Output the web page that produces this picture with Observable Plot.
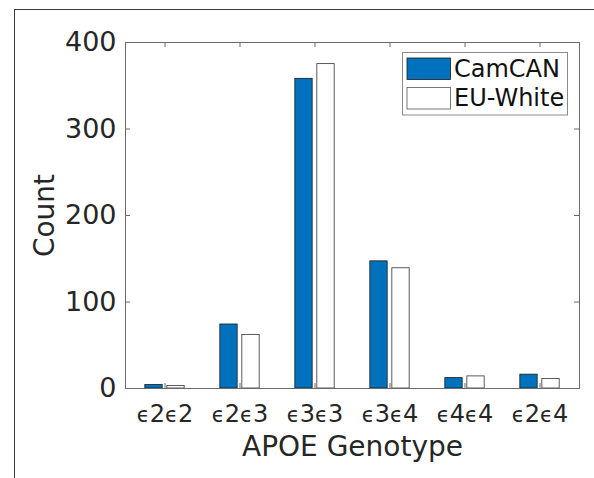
<!DOCTYPE html>
<html>
<head>
<meta charset="utf-8">
<script src="https://cdn.jsdelivr.net/npm/d3@7"></script>
<script src="https://cdn.jsdelivr.net/npm/@observablehq/plot@0.6"></script>
<style>
  html, body { margin: 0; padding: 0; background: white; }
  #wrap { position: relative; width: 594px; height: 478px; overflow: hidden; }
  #border { position: absolute; left: 14px; top: 9px; right: -10px; bottom: -10px; border-left: 1px solid #3c3c3c; border-top: 1px solid #3c3c3c; pointer-events: none; }
</style>
</head>
<body>
<div id="wrap"><div id="chart"></div><div id="border"></div></div>
<script>
const genotypes = ["ϵ2ϵ2", "ϵ2ϵ3", "ϵ3ϵ3", "ϵ3ϵ4", "ϵ4ϵ4", "ϵ2ϵ4"];
const camcan = [4, 74, 358, 147, 12, 16];
const euWhite = [3, 62, 375, 139, 14, 11];
const series = ["CamCAN", "EU-White"];
const seriesColors = ["#0072BD", "#ffffff"];
const yTicks = [0, 100, 200, 300, 400];
const xTitle = "APOE Genotype";
const yTitle = "Count";

const W = 594, H = 478, mL = 125, mR = 15, mT = 42, mB = 90;
const plotW = W - mL - mR, plotH = H - mT - mB;
const bw = plotW / genotypes.length;
const rows = genotypes.map((g, i) => ({g, c: camcan[i], e: euWhite[i]}));
const axisColor = "#262626";
const frameColor = "#6a6a6a";

const chart = Plot.plot({
  width: W, height: H,
  marginLeft: mL, marginRight: mR, marginTop: mT, marginBottom: mB,
  style: {fontFamily: "DejaVu Sans", color: axisColor, background: "white"},
  x: {domain: genotypes, padding: 0, label: null},
  y: {domain: [0, 400], label: null},
  marks: [
    Plot.barY(rows, {x: "g", y: "c", fill: seriesColors[0], stroke: "#1a1a1a", strokeWidth: 0.8,
      insetLeft: bw / 2 - 20, insetRight: bw / 2 + 2}),
    Plot.barY(rows, {x: "g", y: "e", fill: seriesColors[1], stroke: "#333", strokeWidth: 0.8,
      insetLeft: bw / 2 + 2, insetRight: bw / 2 - 20}),
    Plot.frame({stroke: frameColor}),
    Plot.tickY(yTicks, {y: d => d, insetRight: plotW - 5, stroke: frameColor}),
    Plot.tickY(yTicks, {y: d => d, insetLeft: plotW - 5, stroke: frameColor}),
    Plot.tickX(genotypes, {x: d => d, insetTop: plotH - 5, stroke: frameColor}),
    Plot.tickX(genotypes, {x: d => d, insetBottom: plotH - 5, stroke: frameColor}),
    Plot.axisY({ticks: yTicks, tickSize: 0, tickPadding: 9, fontSize: 27, label: null}),
    Plot.axisX({tickSize: 0, tickPadding: 16, fontSize: 24, label: null}),
    Plot.text([xTitle], {frameAnchor: "bottom", text: d => d, dy: 58.7, fontSize: 28, lineAnchor: "middle", textAnchor: "middle", fill: axisColor}),
    Plot.text([yTitle], {frameAnchor: "left", text: d => d, dx: -80.7, rotate: -90, fontSize: 28, lineAnchor: "middle", textAnchor: "middle", fill: axisColor})
  ]
});
document.getElementById("chart").appendChild(chart);

// render epsilon glyphs smaller, as in the TeX-interpreted tick labels
d3.select(chart).selectAll('g[aria-label="x-axis tick label"] text').each(function() {
  const t = this.textContent;
  const sel = d3.select(this);
  sel.text(null);
  for (const ch of t) {
    const sp = sel.append("tspan").text(ch);
    if (ch === "ϵ") sp.attr("font-size", 21);
  }
});

// legend
const svg = d3.select(chart);
const lg = svg.append("g").attr("font-family", "DejaVu Sans").attr("font-size", 24)
  .attr("fill", "#111").attr("text-anchor", "start");
lg.append("rect").attr("x", 402.5).attr("y", 52.5).attr("width", 165).attr("height", 62.5)
  .attr("fill", "white").attr("stroke", "#8a8a8a").attr("stroke-width", 1);
series.forEach((s, i) => {
  const y0 = i === 0 ? 58 : 87.5;
  lg.append("rect").attr("x", 407).attr("y", y0).attr("width", 43.5).attr("height", 21.5)
    .attr("fill", seriesColors[i]).attr("stroke", i === 0 ? "#1a1a1a" : "#555").attr("stroke-width", 0.8);
  lg.append("text").attr("x", 454).attr("y", y0 + 18.5).attr("text-anchor", "start").text(s);
});
</script>
</body>
</html>
